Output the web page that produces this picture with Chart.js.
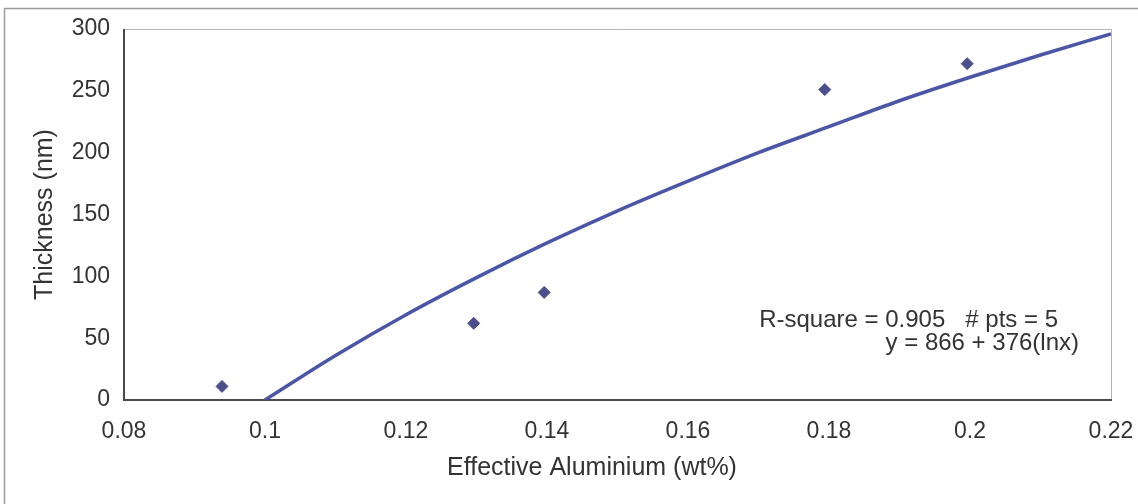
<!DOCTYPE html>
<html>
<head>
<meta charset="utf-8">
<script src="https://cdn.jsdelivr.net/npm/chart.js@4"></script>
<style>
  html, body { margin: 0; padding: 0; background: #fff; }
  canvas { display: block; }
</style>
</head>
<body>
<canvas id="thicknessChart" width="1138" height="504"></canvas>
<script>
// measured points
const aluminium = [0.0939, 0.1296, 0.1396, 0.1794, 0.1996];
const thickness = [11, 62, 87, 251, 272];

// trend curve
const trendX = [0.10, 0.11, 0.12, 0.13, 0.14, 0.15, 0.16, 0.17, 0.18, 0.19, 0.20, 0.21, 0.22];
const trendY = [0, 36, 69, 99, 127, 153, 177, 200, 221, 242, 261, 279, 296];

const xTicks = [0.08, 0.1, 0.12, 0.14, 0.16, 0.18, 0.2, 0.22];
const yTicks = [0, 50, 100, 150, 200, 250, 300];

const xTitle = 'Effective Aluminium (wt%)';
const fitText = ['R-square = 0.905   # pts = 5', 'y = 866 + 376(lnx)'];

const textColor = '#333';
const fontFamily = 'Arial, "Liberation Sans", sans-serif';

// frames around the chart and the plot area, plus the x title and fit text
const framePlugin = {
    id: 'frames',
    beforeDraw(chart) {
        const ctx = chart.ctx;
        ctx.save();
        ctx.fillStyle = '#fff';
        ctx.fillRect(0, 0, chart.width, chart.height);
        ctx.strokeStyle = '#9c9c9c';
        ctx.lineWidth = 1.5;
        ctx.beginPath();
        ctx.moveTo(4.5, chart.height);
        ctx.lineTo(4.5, 8.5);
        ctx.lineTo(chart.width, 8.5);
        ctx.stroke();
        ctx.restore();
    },
    beforeDatasetsDraw(chart) {
        const ctx = chart.ctx;
        const a = chart.chartArea;
        ctx.save();
        ctx.strokeStyle = '#b5b5b5';
        ctx.lineWidth = 1;
        ctx.beginPath();
        ctx.moveTo(a.left, a.top + 0.5);
        ctx.lineTo(a.right + 0.5, a.top + 0.5);
        ctx.lineTo(a.right + 0.5, a.bottom);
        ctx.stroke();
        ctx.strokeStyle = '#4a4a4a';
        ctx.lineWidth = 2;
        ctx.beginPath();
        ctx.moveTo(a.left, a.top);
        ctx.lineTo(a.left, a.bottom);
        ctx.lineTo(a.right + 1, a.bottom);
        ctx.stroke();
        ctx.restore();
    },
    afterDraw(chart) {
        const ctx = chart.ctx;
        ctx.save();
        ctx.fillStyle = textColor;
        ctx.textBaseline = 'alphabetic';
        ctx.font = '25px ' + fontFamily;
        ctx.textAlign = 'center';
        ctx.fillText(xTitle, 592, 475);
        ctx.font = '24px ' + fontFamily;
        ctx.textAlign = 'right';
        ctx.fillText(fitText[0], 1058, 327);
        ctx.fillText(fitText[1], 1079, 350);
        ctx.restore();
    }
};

const ctx = document.getElementById('thicknessChart').getContext('2d');
const chart = new Chart(ctx, {
    type: 'scatter',
    data: {
        datasets: [{
            label: 'Thickness',
            data: aluminium.map((x, i) => ({ x: x, y: thickness[i] })),
            pointStyle: 'rectRot',
            pointRadius: 6,
            backgroundColor: '#4b4f8c',
            borderColor: '#4b4f8c',
            borderWidth: 1,
            showLine: false
        }, {
            label: 'Log fit',
            data: trendX.map((x, i) => ({ x: x, y: trendY[i] })),
            showLine: true,
            pointRadius: 0,
            borderColor: '#4c56a6',
            borderWidth: 3.5,
            tension: 0.4,
            cubicInterpolationMode: 'monotone'
        }]
    },
    options: {
        responsive: false,
        animation: false,
        layout: {
            padding: { top: 29, right: 27, left: 0, bottom: 0 }
        },
        plugins: {
            legend: { display: false },
            tooltip: { enabled: false }
        },
        scales: {
            x: {
                type: 'linear',
                min: 0.08,
                max: 0.22,
                afterFit: (scale) => {
                    scale.height = 104;
                    scale.paddingLeft = 0;
                    scale.paddingRight = 0;
                },
                afterBuildTicks: (scale) => { scale.ticks = xTicks.map(v => ({ value: v })); },
                grid: { display: false, drawTicks: false },
                border: { display: false },
                ticks: {
                    padding: 18,
                    color: textColor,
                    font: { family: fontFamily, size: 23 },
                    maxRotation: 0,
                    callback: (v) => String(+v.toFixed(2))
                },
                title: { display: false }
            },
            y: {
                min: 0,
                max: 300,
                afterFit: (scale) => { scale.width = 124; },
                afterBuildTicks: (scale) => { scale.ticks = yTicks.map(v => ({ value: v })); },
                grid: { display: false, drawTicks: false },
                border: { display: false },
                ticks: {
                    padding: 14,
                    color: textColor,
                    font: { family: fontFamily, size: 23 }
                },
                title: {
                    display: true,
                    text: 'Thickness (nm)',
                    color: textColor,
                    font: { family: fontFamily, size: 25 },
                    padding: { top: 30, bottom: 0 }
                }
            }
        }
    },
    plugins: [framePlugin]
});
</script>
</body>
</html>
